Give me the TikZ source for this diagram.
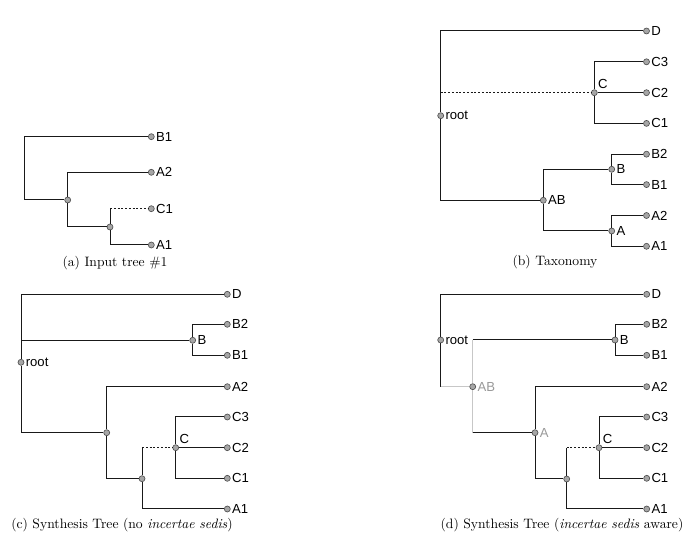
\documentclass[tikz,border=0pt]{standalone}
\usepackage{fontspec}
\newfontfamily\lblfont{Liberation Sans}
\usepackage{tikz}
\usetikzlibrary{positioning,calc}
\tikzset{
  br/.style      = {draw=black!90, line width=0.8pt},
  brgray/.style  = {draw=black!22, line width=0.8pt},
  brdot/.style   = {draw=black!90, line width=0.8pt, dash pattern=on 1.6pt off 1.4pt},
  knot/.style    = {circle, draw=black!70, fill=black!35, inner sep=0pt, minimum size=4.8pt, line width=0.5pt},
  lbl/.style     = {font=\lblfont\fontsize{10.5}{12}\selectfont, inner sep=1pt},
  lblgray/.style = {lbl, text=black!40},
  capt/.style    = {font=\fontsize{10.9}{13}\selectfont, inner sep=0pt},
}

\begin{document}
\begin{tikzpicture}[x=0.8pt,y=-0.8pt]
  \useasboundingbox (0,0) rectangle (687,541);

  % (a) input tree
  \coordinate (aroot) at (24.3,168.3);
  \node[knot] (an1) at (67.7,200) {};
  \node[knot] (an2) at (110,227) {};
  \foreach \n/\y in {B1/136.7,A2/172.3,C1/208.7,A1/245}
    \node[knot, label={[lbl]right:\n}] (a\n) at (151.3,\y) {};
  \draw[br] (aroot) |- (aB1);
  \draw[br] (aroot) |- (an1);
  \draw[br] (an1) |- (aA2);
  \draw[br] (an1) |- (an2);
  \coordinate (an2c) at (an2 |- aC1);
  \draw[br] (an2) -- (an2c);
  \draw[brdot] (an2c) -- (aC1);
  \draw[br] (an2) |- (aA1);
  \node[capt] (capa) at (115,263) {(a) Input tree \#1};

  % (b) taxonomy
  \node[knot, label={[lbl]right:root}] (broot) at (440.7,115.7) {};
  \node[knot, label={[lbl]right:AB}] (bAB) at (543.3,200.3) {};
  \node[knot, label={[lbl]above right:C}] (bC) at (594.3,92.7) {};
  \node[knot, label={[lbl]right:B}] (bB) at (611.7,169.3) {};
  \node[knot, label={[lbl]right:A}] (bA) at (611.7,231) {};
  \foreach \n/\y in {D/31,C3/61.8,C2/92.7,C1/123.4,B2/154.2,B1/184.6,A2/215.5,A1/246.3}
    \node[knot, label={[lbl]right:\n}] (b\n) at (646.5,\y) {};
  \draw[br] (broot) |- (bD);
  \draw[br] (broot) |- (bAB);
  \coordinate (brootc) at (broot |- bC);
  \draw[brdot] (brootc) -- (bC);
  \draw[br] (bC) |- (bC3);
  \draw[br] (bC) -- (bC2);
  \draw[br] (bC) |- (bC1);
  \draw[br] (bAB) |- (bB);
  \draw[br] (bAB) |- (bA);
  \draw[br] (bB) |- (bB2);
  \draw[br] (bB) |- (bB1);
  \draw[br] (bA) |- (bA2);
  \draw[br] (bA) |- (bA1);
  \node[capt] (capb) at (555,262) {(b) Taxonomy};

  % (c) synthesis, no incertae sedis
  \node[knot, label={[lbl]right:root}] (croot) at (21,362.3) {};
  \node[knot, label={[lbl]right:B}] (cB) at (192.7,340.3) {};
  \node[knot] (cn1) at (106.7,432.7) {};
  \node[knot] (cn2) at (142,478.7) {};
  \node[knot, label={[lbl]above right:C}] (cC) at (175.7,447.7) {};
  \foreach \n/\y in {D/294.3,B2/324.3,B1/355.3,A2/386.7,C3/417,C2/447.7,C1/478.3,A1/509}
    \node[knot, label={[lbl]right:\n}] (c\n) at (227.3,\y) {};
  \draw[br] (croot) |- (cD);
  \draw[br] (croot) |- (cn1);
  \coordinate (crootb) at (croot |- cB);
  \draw[br] (crootb) -- (cB);
  \draw[br] (cB) |- (cB2);
  \draw[br] (cB) |- (cB1);
  \draw[br] (cn1) |- (cA2);
  \draw[br] (cn1) |- (cn2);
  \coordinate (cn2c) at (cn2 |- cC);
  \draw[br] (cn2) -- (cn2c);
  \draw[brdot] (cn2c) -- (cC);
  \draw[br] (cn2) |- (cA1);
  \draw[br] (cC) |- (cC3);
  \draw[br] (cC) -- (cC2);
  \draw[br] (cC) |- (cC1);
  \node[capt] (capc) at (122,525) {(c) Synthesis Tree (no \emph{incertae sedis})};

  % (d) synthesis, incertae sedis aware
  \node[knot, label={[lbl]right:root}] (droot) at (440.7,340) {};
  \node[knot, label={[lblgray]right:AB}] (dAB) at (472.7,386.7) {};
  \node[knot, label={[lblgray]right:A}] (dA) at (535,432.7) {};
  \node[knot] (dn2) at (566.7,479) {};
  \node[knot, label={[lbl]above right:C}] (dC) at (599,447.7) {};
  \node[knot, label={[lbl]right:B}] (dB) at (615,340) {};
  \foreach \n/\y in {D/294.3,B2/324.3,B1/355.3,A2/386.7,C3/417,C2/447.7,C1/478.3,A1/509}
    \node[knot, label={[lbl]right:\n}] (d\n) at (646.7,\y) {};
  \draw[br] (droot) |- (dD);
  \coordinate (drootab) at (droot |- dAB);
  \draw[br] (droot) -- (drootab);
  \draw[brgray] (drootab) -- (dAB);
  \coordinate (dabb) at (dAB |- dB);
  \coordinate (daba) at (dAB |- dA);
  \draw[brgray] (dAB) -- (dabb);
  \draw[brgray] (dAB) -- (daba);
  \draw[br] (dabb) -- (dB);
  \draw[br] (daba) -- (dA);
  \draw[br] (dB) |- (dB2);
  \draw[br] (dB) |- (dB1);
  \draw[br] (dA) |- (dA2);
  \draw[br] (dA) |- (dn2);
  \coordinate (dn2c) at (dn2 |- dC);
  \draw[br] (dn2) -- (dn2c);
  \draw[brdot] (dn2c) -- (dC);
  \draw[br] (dn2) |- (dA1);
  \draw[br] (dC) |- (dC3);
  \draw[br] (dC) -- (dC2);
  \draw[br] (dC) |- (dC1);
  \node[capt] (capd) at (562,525) {(d) Synthesis Tree (\emph{incertae sedis} aware)};
\end{tikzpicture}
\end{document}
